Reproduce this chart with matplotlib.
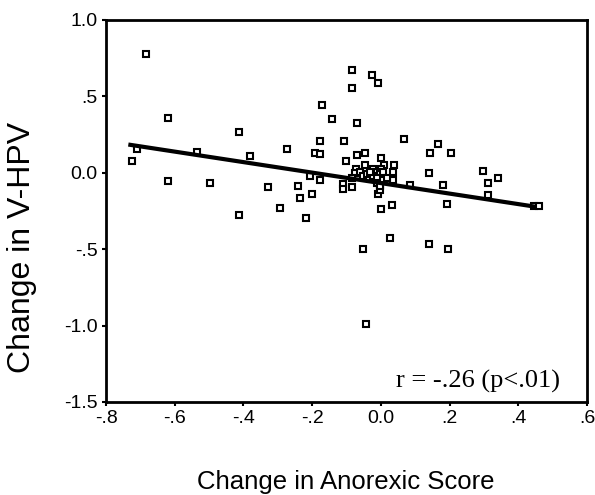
import matplotlib
matplotlib.use("Agg")
import matplotlib.pyplot as plt

# scatter points (change in anorexic score, change in V-HPV)
anorexic = [-0.685, -0.620, -0.711, -0.725, -0.536, -0.620, -0.498, -0.414, -0.382, -0.274,
            -0.172, -0.143, -0.178, -0.108, -0.191, -0.178, -0.102, -0.207, -0.178, -0.109,
            -0.109, -0.329, -0.242, -0.236, -0.201, -0.294, -0.414, -0.219, -0.085, -0.027,
            -0.008, -0.085, -0.068, 0.067, 0.166, 0.142, 0.203, -0.068, -0.047, -0.047,
            0.000, 0.038, 0.010, -0.072, -0.024, 0.000, 0.034, 0.034, 0.139, 0.297,
            0.340, 0.312, 0.312, 0.192, 0.181, 0.085, -0.084, -0.009, -0.002, -0.002,
            0.000, 0.032, 0.445, 0.026, -0.051, 0.139, 0.195, -0.044, 0.460,
            -0.075, -0.061, -0.051, -0.041, -0.012, -0.002, 0.007, -0.022, -0.012, 0.017,
            -0.012, -0.002, -0.085, -0.032]
vhpv = [0.777, 0.361, 0.159, 0.079, 0.133, -0.052, -0.070, 0.264, 0.111, 0.159,
        0.441, 0.350, 0.205, 0.205, 0.131, 0.122, 0.074, -0.020, -0.050, -0.072,
        -0.109, -0.096, -0.085, -0.162, -0.136, -0.228, -0.278, -0.293, 0.671, 0.638,
        0.586, 0.557, 0.323, 0.218, 0.186, 0.131, 0.127, 0.114, 0.127, 0.054,
        0.100, 0.048, 0.048, 0.026, 0.026, 0.024, 0.004, -0.044, -0.004, 0.009,
        -0.031, -0.070, -0.144, -0.201, -0.077, -0.077, -0.094, -0.136, -0.079, -0.113,
        -0.234, -0.208, -0.216, -0.424, -0.496, -0.464, -0.496, -0.988, -0.215,
        0.000, 0.002, -0.020, -0.009, 0.002, -0.009, 0.002, -0.020, -0.031, -0.031,
        -0.064, -0.085, -0.031, 0.006]

# fitted line end points as drawn in the reference
fit_x = [-0.735, 0.450]
fit_y = [0.185, -0.222]

x_ticks = [-0.8, -0.6, -0.4, -0.2, 0.0, 0.2, 0.4, 0.6]
x_labels = ["-.8", "-.6", "-.4", "-.2", "0.0", ".2", ".4", ".6"]
y_ticks = [-1.5, -1.0, -0.5, 0.0, 0.5, 1.0]
y_labels = ["-1.5", "-1.0", "-.5", "0.0", ".5", "1.0"]

plt.rcParams['font.family'] = ['Liberation Sans', 'DejaVu Sans']

fig = plt.figure(figsize=(5.95, 4.95), dpi=100)
ax = fig.add_axes([106 / 595, 1 - 402 / 495, 481 / 595, 382 / 495])

ax.plot(anorexic, vhpv, linestyle='none', marker='s', markersize=5,
        markerfacecolor='white', markeredgecolor='black', markeredgewidth=1.5)
ax.plot(fit_x, fit_y, color='black', linewidth=3, solid_capstyle='butt')

ax.set_xlim(-0.8, 0.6)
ax.set_ylim(-1.5, 1.0)
ax.set_xticks(x_ticks)
ax.set_xticklabels(x_labels)
ax.set_yticks(y_ticks)
ax.set_yticklabels(y_labels)
ax.tick_params(direction='out', length=3, width=1.5, labelsize=14, pad=3, colors='black')

for s in ax.spines.values():
    s.set_linewidth(2)
    s.set_color('black')

ax.text(0.944, 0.037, "r = -.26 (p<.01)", transform=ax.transAxes, ha='right', va='baseline',
        fontsize=19, family='Liberation Serif')

fig.text(346 / 595, 1 - 482 / 495, "Change in Anorexic Score", ha='center', va='center', fontsize=18.5)
fig.text(22 / 595, 1 - 247 / 495, "Change in V-HPV", ha='center', va='center', rotation=90, fontsize=23)

fig.savefig("out.png", dpi=100)
